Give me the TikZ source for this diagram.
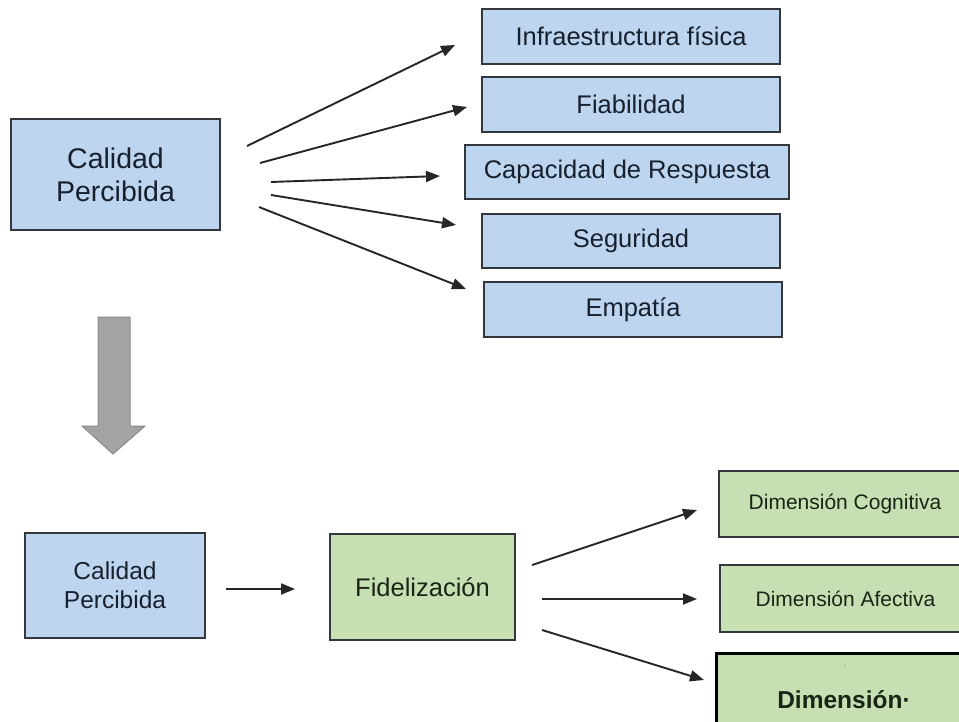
\documentclass[tikz,border=0pt]{standalone}
\usepackage{fontspec}
\setmainfont{Liberation Sans}
\usetikzlibrary{arrows.meta}
\definecolor{bluefill}{HTML}{BDD5EE}
\definecolor{greenfill}{HTML}{C6E0B4}
\definecolor{boxline}{HTML}{33383D}
\definecolor{bluetext}{HTML}{17202E}
\definecolor{greentext}{HTML}{1A2515}
\definecolor{arrowgray}{HTML}{A3A3A3}
\definecolor{arrowedge}{HTML}{8A8A8A}
\definecolor{conn}{HTML}{262626}
\tikzset{
  bluebox/.style={draw=boxline, line width=1.8pt, fill=bluefill, text=bluetext, inner sep=0pt, align=center},
  greenbox/.style={draw=boxline, line width=1.8pt, fill=greenfill, text=greentext, inner sep=0pt, align=center},
  conarrow/.style={draw=conn, line width=1.9pt, -{Triangle[length=14pt,width=11pt]}},
}
\begin{document}
\begin{tikzpicture}[x=1pt,y=-1pt]
\useasboundingbox[fill=white] (0,0) rectangle (959,722);

% top section
\node[bluebox, minimum width=209pt, minimum height=111pt, font=\fontsize{28.5}{33}\selectfont] (cp1) at (115.5,174.5) {Calidad\\Percibida};
\node[bluebox, minimum width=298pt, minimum height=55pt, font=\fontsize{25.5}{30}\selectfont] (inf) at (631,36.5) {Infraestructura física};
\node[bluebox, minimum width=298pt, minimum height=55pt, font=\fontsize{25.5}{30}\selectfont] (fia) at (631,104.5) {Fiabilidad};
\node[bluebox, minimum width=324pt, minimum height=54pt, font=\fontsize{25.5}{30}\selectfont] (cap) at (627,172) {Capacidad de Respuesta};
\node[bluebox, minimum width=298pt, minimum height=54pt, font=\fontsize{25.5}{30}\selectfont] (seg) at (631,241) {Seguridad};
\node[bluebox, minimum width=298pt, minimum height=55pt, font=\fontsize{25.5}{30}\selectfont] (emp) at (633,309.5) {Empatía};

\coordinate (s1) at (247,146);  \coordinate (e1) at (455,45);
\coordinate (s2) at (260,163);  \coordinate (e2) at (467,107);
\coordinate (s3) at (271,182);  \coordinate (e3) at (440,176);
\coordinate (s4) at (271,195);  \coordinate (e4) at (456,225);
\coordinate (s5) at (259,207);  \coordinate (e5) at (466,289);
\draw[conarrow] (s1) -- (e1);
\draw[conarrow] (s2) -- (e2);
\draw[conarrow] (s3) -- (e3);
\draw[conarrow] (s4) -- (e4);
\draw[conarrow] (s5) -- (e5);

% big gray arrow
\draw[fill=arrowgray, draw=arrowedge, line width=1pt, line join=miter]
  (98,317) -- (130,317) -- (130,426) -- (145,426) -- (113,454) -- (82,426) -- (98,426) -- cycle;

% bottom section
\node[bluebox, minimum width=180pt, minimum height=105pt, font=\fontsize{24.5}{29}\selectfont] (cp2) at (115,585.5) {Calidad\\Percibida};
\node[greenbox, minimum width=185pt, minimum height=106pt, font=\fontsize{25.5}{30}\selectfont] (fid) at (422.5,587) {Fidelización};
\node[greenbox, minimum width=252pt, minimum height=66pt, font=\fontsize{21}{24}\selectfont] (cog) at (845,504) {Dimensión Cognitiva};
\node[greenbox, minimum width=251pt, minimum height=67pt, font=\fontsize{21}{24}\selectfont] (afe) at (845.5,598.5) {Dimensión Afectiva};
\node[draw=black, line width=3pt, fill=greenfill, inner sep=0pt, minimum width=255pt, minimum height=140pt] (con) at (843.5,723) {};
\node[text=greentext, font=\fontsize{24.5}{28}\selectfont\bfseries, anchor=base] (conlabel) at (844,708) {Dimensión·};
\node[text=greentext, font=\fontsize{7}{8}\selectfont, anchor=base] (condot) at (845,666) {.};

\coordinate (b0s) at (226,589); \coordinate (b0e) at (295,589);
\coordinate (b1s) at (532,565); \coordinate (b1e) at (697,510);
\coordinate (b2s) at (542,599); \coordinate (b2e) at (697,599);
\coordinate (b3s) at (542,630); \coordinate (b3e) at (704,680);
\draw[conarrow] (b0s) -- (b0e);
\draw[conarrow] (b1s) -- (b1e);
\draw[conarrow] (b2s) -- (b2e);
\draw[conarrow] (b3s) -- (b3e);
\end{tikzpicture}
\end{document}
